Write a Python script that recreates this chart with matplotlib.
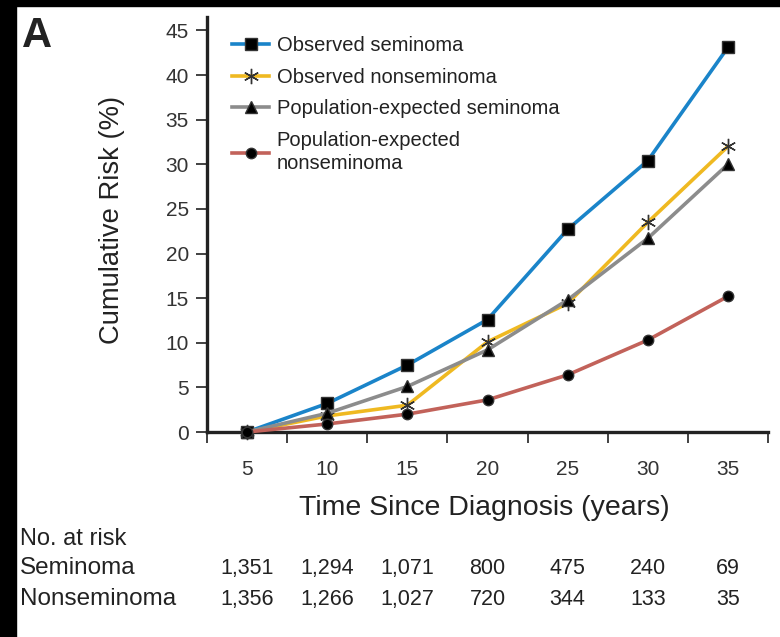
import matplotlib.pyplot as plt
from matplotlib.patches import Rectangle

plt.rcParams['font.family'] = ['Liberation Sans', 'DejaVu Sans']

years = [5, 10, 15, 20, 25, 30, 35]
obs_sem = [0, 3.2, 7.5, 12.6, 22.7, 30.4, 43.1]
obs_nonsem = [0, 1.8, 3.0, 10.1, 14.4, 23.5, 32.0]
exp_sem = [0, 2.1, 5.1, 9.2, 14.8, 21.7, 30.0]
exp_nonsem = [0, 0.9, 2.0, 3.6, 6.4, 10.3, 15.2]

risk_sem = ['1,351', '1,294', '1,071', '800', '475', '240', '69']
risk_nonsem = ['1,356', '1,266', '1,027', '720', '344', '133', '35']

TXT = '#222222'

fig = plt.figure(figsize=(7.8, 6.37), dpi=100)
ax = fig.add_axes([207 / 780, 1 - 432 / 637, 561 / 780, 415 / 637])

series = [
    (obs_sem, '#1a84c9', 's', 9, 'Observed seminoma'),
    (obs_nonsem, '#efb921', (6, 2, 0), 11, 'Observed nonseminoma'),
    (exp_sem, '#8c8c8c', '^', 9, 'Population-expected seminoma'),
    (exp_nonsem, '#c2625a', 'o', 7.5, 'Population-expected\nnonseminoma'),
]
for vals, col, mk, ms, lab in series:
    ax.plot(years, vals, color=col, lw=2.6, marker=mk, markersize=ms,
            markerfacecolor='black', markeredgecolor='#333333',
            markeredgewidth=1.0, label=lab, clip_on=False, zorder=3)

ax.set_xlim(2.5, 37.5)
ax.set_ylim(0, 46.5)
ax.set_yticks(range(0, 50, 5))
ax.set_xticks(years)
ax.set_xticks([2.5 + 5 * k for k in range(8)], minor=True)
ax.tick_params(axis='x', which='major', length=0, pad=20, labelsize=15)
ax.tick_params(axis='x', which='minor', length=8, width=1.3, direction='out')
ax.tick_params(axis='y', length=8, width=1.3, direction='out', pad=5,
               labelsize=15)
ax.tick_params(axis='both', which='both', colors='#333333')

for s in ['top', 'right']:
    ax.spines[s].set_visible(False)
for s in ['left', 'bottom']:
    ax.spines[s].set_linewidth(2.4)
    ax.spines[s].set_color(TXT)

leg = ax.legend(loc='upper left', bbox_to_anchor=(0.013, 0.997), frameon=False,
                fontsize=14.5, handlelength=1.8, handletextpad=0.4,
                labelspacing=0.62, borderpad=0.4)
for t in leg.get_texts():
    t.set_color(TXT)
    t.set_linespacing(1.3)

fig.text(112 / 780, 1 - 220 / 637, 'Cumulative Risk (%)', rotation=90,
         ha='center', va='center', fontsize=19.7, color=TXT)
fig.text(484 / 780, 1 - 515 / 637, 'Time Since Diagnosis (years)',
         ha='center', va='baseline', fontsize=20.5, color=TXT)
fig.text(22 / 780, 1 - 47 / 637, 'A', ha='left', va='baseline', fontsize=30,
         fontweight='bold', color=TXT)

# number at risk table under the x axis
fig.text(20 / 780, 1 - 545 / 637, 'No. at risk', ha='left', va='baseline',
         fontsize=17, color=TXT)
rows = [('Seminoma', risk_sem, 574), ('Nonseminoma', risk_nonsem, 605)]
for name, counts, ypix in rows:
    yf = 1 - ypix / 637
    fig.text(20 / 780, yf, name, ha='left', va='baseline', fontsize=17.5,
             color=TXT)
    for yr, c in zip(years, counts):
        xf = fig.transFigure.inverted().transform(ax.transData.transform((yr, 0)))[0]
        fig.text(xf, yf, c, ha='center', va='baseline', fontsize=15.5,
                 color=TXT)

# dark strips along the top and left edges
fig.patches.append(Rectangle((0, 1 - 6 / 637), 1, 6 / 637, transform=fig.transFigure,
                             color='black', zorder=10))
fig.patches.append(Rectangle((0, 0), 16 / 780, 1, transform=fig.transFigure,
                             color='black', zorder=10))

fig.savefig('out.png', dpi=100)
